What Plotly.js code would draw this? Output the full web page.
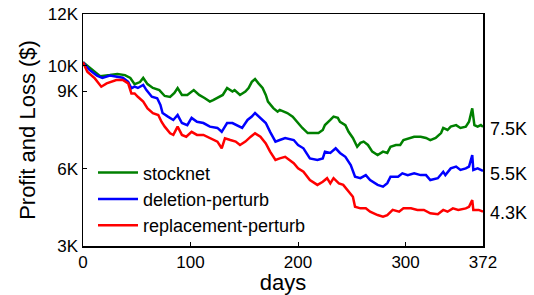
<!DOCTYPE html>
<html>
<head>
<meta charset="utf-8">
<script src="https://cdn.plot.ly/plotly-3.0.1.min.js"></script>
<style>html,body{margin:0;padding:0;background:#fff;}#chart{width:534px;height:295px;}</style>
</head>
<body>
<div id="chart"></div>
<script>
// Series names
const seriesNames = ['stocknet', 'deletion-perturb', 'replacement-perturb'];

// stocknet (green)
const greenDays = [0,6,11,16,25,32,39,44,48,53,56,60,65,71,76,81,85,88,92,97,103,108,113,118,121,126,130,134,139,141,146,151,154,157,160,163,167,170,172,177,181,183,190,195,199,204,209,214,219,223,225,230,233,237,239,244,247,251,255,258,261,265,269,274,279,283,286,291,295,298,303,308,314,319,323,328,333,335,339,342,347,351,356,359,362,364,367,370,372];
const greenVals = [10130,9940,9750,9590,9630,9670,9630,9520,9280,9360,9520,9280,9130,9050,8820,8780,8940,9130,8860,8860,9050,8860,8740,8600,8660,8790,8860,9130,8990,9050,8860,8990,9130,9370,9480,9320,9130,8860,8600,8350,8210,8280,8160,8020,7820,7580,7380,7380,7380,7500,7690,7890,8020,7970,7820,7690,7430,7190,6850,7000,7050,6920,6660,6530,6660,6610,6850,6920,6920,7110,7190,7240,7240,7190,7110,7190,7380,7580,7500,7630,7690,7580,7630,7820,8340,7690,7630,7690,7620];

// deletion-perturb (blue)
const blueDays = [0,6,13,18,25,31,37,42,45,48,51,56,59,64,69,72,74,79,84,88,92,97,101,106,112,118,125,129,134,139,143,148,153,157,160,165,170,174,179,183,188,196,200,205,211,218,223,225,230,235,239,244,249,253,258,263,267,274,279,283,286,293,297,302,308,314,319,323,330,335,337,342,347,351,356,359,362,363,367,372];
const blueVals = [10130,9830,9610,9520,9610,9570,9530,9370,9120,9180,9130,9250,9050,8790,8730,8470,8160,8020,7890,8080,7770,7690,7970,7820,7770,7630,7580,7430,7770,7770,7690,7580,7890,8020,8160,7970,7770,7430,7050,7110,7190,7110,6920,6790,6400,6340,6400,6660,6610,6790,6610,6460,6140,5690,5630,5750,5560,5370,5300,5440,5690,5690,5820,5750,5820,5750,5750,5560,5630,5880,5750,6010,6080,5950,6010,6080,6530,5950,6010,5910];

// replacement-perturb (red)
const redDays = [0,4,11,17,22,27,31,37,42,45,48,51,56,60,65,70,73,76,81,84,88,92,96,101,106,112,118,125,129,132,137,142,146,151,156,160,165,170,174,179,183,188,196,200,205,211,218,223,227,230,233,238,242,246,251,253,258,263,267,274,279,283,288,294,298,305,311,317,323,330,335,339,344,349,356,359,362,363,368,372];
const redVals = [10130,9760,9500,9180,9310,9370,9440,9440,9310,8920,8920,8790,8600,8340,8150,8080,7820,7630,7370,7310,7630,7310,7240,7430,7310,7310,7180,7050,6790,7180,7110,7050,6920,7050,7240,7370,7240,6980,6660,6340,6400,6460,6210,6010,5880,5560,5370,5490,5630,5430,5630,5430,5370,5170,4910,4520,4460,4460,4330,4200,4140,4200,4400,4330,4460,4460,4400,4400,4270,4230,4400,4330,4460,4400,4460,4520,4780,4400,4400,4330];

// axis ticks
const xTickVals = [0, 100, 200, 300, 372];
const xTickText = ['0', '100', '200', '300', '372'];
const yTickVals = [3000, 6000, 9000, 10000, 12000];
const yTickText = ['3K', '6K', '9K', '10K', '12K'];

// end labels
const endLabels = ['7.5K', '5.5K', '4.3K'];
const endLabelY = [7530, 5780, 4290];

const colors = ['#008000', '#0000ff', '#ff0000'];
const FONT = 'Liberation Sans, Arial, sans-serif';

const traces = [
  {x: greenDays, y: greenVals, name: seriesNames[0]},
  {x: blueDays, y: blueVals, name: seriesNames[1]},
  {x: redDays, y: redVals, name: seriesNames[2]}
].map((t, i) => Object.assign(t, {type: 'scatter', mode: 'lines', line: {color: colors[i], width: 2.5}}));

const annotations = endLabels.map((txt, i) => ({
  xref: 'paper', x: 1, xanchor: 'left', xshift: 5,
  yref: 'y', y: endLabelY[i], yanchor: 'middle',
  text: txt, showarrow: false, font: {family: FONT, size: 18, color: '#000'}
}));

const layout = {
  width: 534, height: 295,
  margin: {l: 83, r: 51, t: 14, b: 49},
  paper_bgcolor: '#fff', plot_bgcolor: '#fff',
  font: {family: FONT, color: '#000'},
  showlegend: true,
  legend: {x: 0.025, y: 0.395, xanchor: 'left', yanchor: 'top', bgcolor: 'rgba(0,0,0,0)',
           font: {family: FONT, size: 18, color: '#000'}, itemwidth: 40, tracegroupgap: 0},
  xaxis: {
    range: [0, 372], tickvals: xTickVals, ticktext: xTickText,
    ticks: 'inside', ticklen: 4, tickwidth: 1, tickcolor: '#000',
    showline: true, linecolor: '#000', linewidth: 1.5, mirror: true,
    showgrid: false, zeroline: false,
    tickfont: {family: FONT, size: 17, color: '#000'},
    title: {text: 'days', font: {family: FONT, size: 22, color: '#000'}, standoff: 9}
  },
  yaxis: {
    range: [3000, 12000], tickvals: yTickVals, ticktext: yTickText,
    ticks: 'inside', ticklen: 4, tickwidth: 1, tickcolor: '#000',
    showline: true, linecolor: '#000', linewidth: 1.5, mirror: true,
    showgrid: false, zeroline: false,
    tickfont: {family: FONT, size: 17, color: '#000'},
    title: {text: 'Profit and Loss ($)', font: {family: FONT, size: 22, color: '#000'}, standoff: 6}
  },
  annotations: annotations
};

Plotly.newPlot('chart', traces, layout, {displayModeBar: false, staticPlot: true});
</script>
</body>
</html>
